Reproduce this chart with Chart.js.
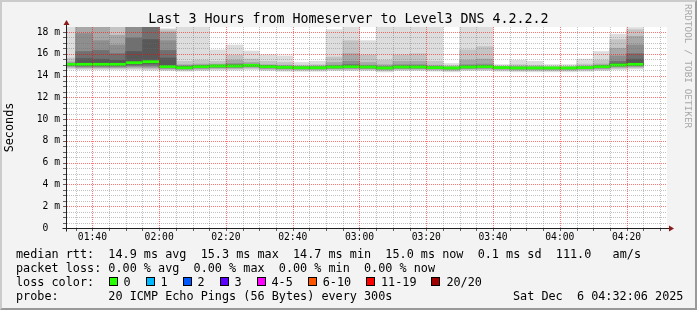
<!DOCTYPE html>
<html>
<head>
<meta charset="utf-8">
<script src="https://cdn.jsdelivr.net/npm/chart.js@4/dist/chart.umd.min.js"></script>
<style>
html, body { margin: 0; padding: 0; background: #f3f3f3; }
#wrap { position: relative; width: 697px; height: 310px; overflow: hidden; }
#chart { position: absolute; left: 0; top: 0; }
.mono { position: absolute; font-family: 'DejaVu Sans Mono', monospace; font-size: 11.8px; line-height: 14px; white-space: pre; color: #000; }
.box { position: absolute; width: 7px; height: 7px; border: 1px solid #000; }
#title { position: absolute; left: 0; top: 10px; width: 697px; text-align: center; font-family: 'DejaVu Sans Mono', monospace; font-size: 13.3px; line-height: 18px; color: #000; white-space: pre; }
#stamp { position: absolute; left: 683px; top: 4px; writing-mode: vertical-rl; font-family: 'DejaVu Sans Mono', monospace; font-size: 9.4px; line-height: 10px; color: #a8a8a8; white-space: pre; }
#frame { position: absolute; left: 0; top: 0; width: 697px; height: 310px; box-sizing: border-box;
  border-top: 2px solid #cbcbcb; border-left: 2px solid #cbcbcb; border-right: 2px solid #999; border-bottom: 2px solid #999; }
</style>
</head>
<body>
<div id="wrap">
  <canvas id="chart" width="697" height="310"></canvas>
  <div id="title"></div>
  <div id="legend"></div>
  <div id="stamp">RRDTOOL / TOBI OETIKER</div>
  <div id="frame"></div>
</div>
<script>
// --- data (5 minute slots, start time of each slot) ---
const titleText = 'Last 3 Hours from Homeserver to Level3 DNS 4.2.2.2';
const timeStart = '01:32:06';
const timeEnd = '04:32:06';
const slotTimes = ['01:30','01:35','01:40','01:45','01:50','01:55','02:00','02:05','02:10','02:15','02:20','02:25',
  '02:30','02:35','02:40','02:45','02:50','02:55','03:00','03:05','03:10','03:15','03:20','03:25',
  '03:30','03:35','03:40','03:45','03:50','03:55','04:00','04:05','04:10','04:15','04:20'];

// median rtt (ms)
const median = [15.03,15.03,15.03,15.03,15.18,15.27,14.82,14.72,14.82,14.88,14.88,14.94,14.82,14.76,14.72,14.72,14.79,14.82,
  14.79,14.70,14.79,14.79,14.73,14.70,14.79,14.82,14.73,14.70,14.70,14.70,14.70,14.73,14.82,14.97,15.03];

// smoke bands, outermost (1) to innermost (6): low and high edge in ms
const band1Lo = [14.6,14.55,14.55,14.55,14.55,14.5,14.45,14.4,14.45,14.5,14.5,14.55,14.45,14.4,14.4,14.4,14.45,14.45,14.45,14.35,14.45,14.45,14.4,14.35,14.45,14.45,14.4,14.35,14.35,14.35,14.35,14.4,14.45,14.55,14.6];
const band1Hi = [19,19,19,19,19,19,18.3,19,19,16.35,16.8,16.25,15.9,15.8,15.2,15.3,18.2,19,17.2,19,19,19,19,15.1,19,19,15.0,15.4,15.3,15.0,15.0,15.5,16.2,17.8,18.4];
const band2Lo = [14.7,14.65,14.65,14.65,14.65,14.6,14.55,14.5,14.55,14.6,14.6,14.65,14.55,14.5,14.5,14.5,14.55,14.55,14.55,14.45,14.55,14.55,14.5,14.45,14.55,14.55,14.5,14.45,14.45,14.45,14.45,14.5,14.55,14.65,14.7];
const band2Hi = [15.6,19,19,19,19,19,18.2,15.3,15.4,15.3,15.85,15.5,15.3,15.2,14.95,15.0,15.7,17.2,15.9,15.4,15.9,16.0,15.3,14.9,16.35,16.65,14.88,15.0,14.95,14.85,14.85,15.05,15.4,17.3,18.2];
const band3Lo = [14.8,14.72,14.72,14.72,14.75,14.7,14.62,14.57,14.63,14.68,14.68,14.75,14.63,14.58,14.57,14.57,14.62,14.63,14.62,14.53,14.62,14.62,14.57,14.53,14.62,14.63,14.57,14.53,14.53,14.53,14.53,14.57,14.63,14.75,14.8];
const band3Hi = [15.25,19,19,17.7,19,19,18.0,15.0,15.05,15.05,15.4,15.2,15.0,14.95,14.85,14.88,15.2,16.0,15.2,15.0,15.3,15.3,14.95,14.8,15.4,15.5,14.8,14.85,14.82,14.78,14.78,14.88,15.05,16.5,17.6];
const band4Lo = [14.88,14.8,14.8,14.8,14.85,14.8,14.68,14.62,14.7,14.75,14.75,14.82,14.7,14.65,14.62,14.62,14.68,14.7,14.68,14.6,14.68,14.68,14.63,14.6,14.68,14.7,14.63,14.6,14.6,14.6,14.6,14.63,14.7,14.83,14.88];
const band4Hi = [15.15,17.85,17.2,16.8,19,19,17.2,14.9,14.95,14.98,15.1,15.05,14.92,14.86,14.8,14.8,14.95,15.3,14.95,14.85,15.0,15.0,14.83,14.76,15.0,15.05,14.77,14.78,14.77,14.75,14.75,14.8,14.92,15.8,16.8];
const band5Lo = [14.93,14.88,14.88,14.88,14.95,14.95,14.73,14.66,14.75,14.8,14.8,14.87,14.75,14.7,14.66,14.66,14.72,14.75,14.72,14.64,14.72,14.72,14.67,14.64,14.72,14.75,14.67,14.64,14.64,14.64,14.64,14.67,14.75,14.9,14.93];
const band5Hi = [15.1,16.2,16.3,16.0,17.45,19,16.3,14.85,14.9,14.94,15.0,15.0,14.88,14.82,14.77,14.77,14.87,15.0,14.86,14.78,14.88,14.88,14.78,14.74,14.88,14.92,14.76,14.75,14.74,14.73,14.73,14.77,14.87,15.3,16.0];
const band6Lo = [14.97,14.95,14.95,14.95,15.05,15.1,14.77,14.69,14.78,14.84,14.84,14.9,14.78,14.73,14.69,14.69,14.76,14.78,14.76,14.67,14.76,14.76,14.7,14.67,14.76,14.78,14.7,14.67,14.67,14.67,14.67,14.7,14.78,14.94,14.97];
const band6Hi = [15.08,15.55,15.5,15.4,16.2,17.3,15.6,14.8,14.87,14.92,14.95,14.97,14.86,14.8,14.75,14.75,14.83,14.88,14.83,14.75,14.84,14.84,14.76,14.72,14.84,14.86,14.75,14.73,14.72,14.72,14.72,14.75,14.85,15.1,15.5];

const lossLabels = ['0', '1', '2', '3', '4-5', '6-10', '11-19', '20/20'];
const lossColors = ['#26ff00', '#00b8ff', '#0059ff', '#5e00ff', '#ff00ff', '#ff5500', '#ff0000', '#a10000'];

const legendRows = [
  'median rtt:  14.9 ms avg  15.3 ms max  14.7 ms min  15.0 ms now  0.1 ms sd  111.0   am/s',
  'packet loss: 0.00 % avg  0.00 % max  0.00 % min  0.00 % now',
  'loss color:',
  'probe:       20 ICMP Echo Pings (56 Bytes) every 300s'
];
const dateText = 'Sat Dec  6 04:32:06 2025';

// --- helpers ---
function toMin(s) {
  const p = s.split(':').map(Number);
  return p[0] * 60 + p[1] + (p[2] || 0) / 60;
}
function fmt(v) {
  const h = Math.floor(v / 60), m = Math.round(v % 60);
  return String(h).padStart(2, '0') + ':' + String(m).padStart(2, '0');
}

const bands = [
  [band1Lo, band1Hi], [band2Lo, band2Hi], [band3Lo, band3Hi],
  [band4Lo, band4Hi], [band5Lo, band5Hi], [band6Lo, band6Hi]
];
const bandColors = ['#dddddd', '#c4c4c4', '#a8a8a8', '#8e8e8e', '#707070', '#585858'];
const slotX = slotTimes.map(t => toMin(t) + 2.5);

// grid every 5 min / 0.5 ms, red every 20 min / 2 ms
const xGrid = [];
for (let v = 95; v <= 270; v += 5) xGrid.push(v);
const yGrid = [];
for (let v = 0.5; v <= 18; v += 0.5) yGrid.push(v);

const majorColor = 'rgba(255,0,0,0.55)';
const minorColor = 'rgba(110,110,110,0.42)';
const tickFont = { family: "'DejaVu Sans Mono', monospace", size: 9.7 };
const medHalf = 0.13;

const datasets = bands.map((b, k) => ({
  data: slotX.map((x, i) => ({ x: x, y: [b[0][i], b[1][i]] })),
  backgroundColor: bandColors[k],
  borderWidth: 0,
  grouped: false,
  barPercentage: 1,
  categoryPercentage: 1,
  inflateAmount: 0.4,
  order: 10 - k
}));
datasets.push({
  data: slotX.map((x, i) => ({ x: x, y: [median[i] - medHalf, median[i] + medHalf] })),
  backgroundColor: lossColors[0],
  borderWidth: 0,
  grouped: false,
  barPercentage: 1,
  categoryPercentage: 1,
  inflateAmount: 0,
  order: 0
});

const canvasBg = {
  id: 'canvasBg',
  beforeDraw(chart) {
    const a = chart.chartArea, ctx = chart.ctx;
    ctx.save();
    ctx.fillStyle = '#ffffff';
    ctx.fillRect(a.left, a.top, a.right - a.left, a.bottom - a.top);
    ctx.restore();
  }
};

// dotted grid on top of the smoke, placed with the chart's own scales
const gridLines = {
  id: 'gridLines',
  afterDatasetsDraw(chart) {
    const { ctx, chartArea: a, scales } = chart;
    const sx = scales.x, sy = scales.y;
    const top = Math.round(a.top), bottom = Math.round(a.bottom);
    const left = Math.round(a.left), right = Math.round(a.right);
    ctx.save();
    const pass = major => {
      ctx.fillStyle = major ? majorColor : minorColor;
      xGrid.filter(v => (v % 20 === 0) === major).forEach(v => {
        const px = Math.round(sx.getPixelForValue(v));
        for (let y = top; y < bottom; y += 2) ctx.fillRect(px, y, 1, 1);
      });
      yGrid.filter(v => (v % 2 === 0) === major).forEach(v => {
        const py = Math.round(sy.getPixelForValue(v));
        for (let x = left + 1; x < right; x += 2) ctx.fillRect(x, py, 1, 1);
      });
    };
    pass(false);
    pass(true);
    // small tick marks outside the axes
    ctx.fillStyle = '#606060';
    xGrid.forEach(v => ctx.fillRect(Math.round(sx.getPixelForValue(v)), bottom, 1, 3));
    yGrid.forEach(v => ctx.fillRect(left - 3, Math.round(sy.getPixelForValue(v)), 3, 1));
    ctx.restore();
  }
};

const axisArrows = {
  id: 'axisArrows',
  afterDraw(chart) {
    const a = chart.chartArea, ctx = chart.ctx;
    const l = Math.round(a.left) + 0.5, b = Math.round(a.bottom) + 0.5;
    ctx.save();
    ctx.strokeStyle = '#202020';
    ctx.lineWidth = 1;
    ctx.beginPath();
    ctx.moveTo(l - 4, b); ctx.lineTo(a.right + 3, b);
    ctx.moveTo(l, b + 3); ctx.lineTo(l, a.top - 3);
    ctx.stroke();
    ctx.fillStyle = '#8b1a1a';
    ctx.beginPath();
    ctx.moveTo(a.right + 7, b); ctx.lineTo(a.right + 2, b - 3); ctx.lineTo(a.right + 2, b + 3);
    ctx.closePath(); ctx.fill();
    ctx.beginPath();
    ctx.moveTo(l, a.top - 7); ctx.lineTo(l - 3, a.top - 2); ctx.lineTo(l + 3, a.top - 2);
    ctx.closePath(); ctx.fill();
    ctx.restore();
  }
};

new Chart(document.getElementById('chart'), {
  type: 'bar',
  data: { datasets: datasets },
  plugins: [canvasBg, gridLines, axisArrows],
  options: {
    responsive: false,
    animation: false,
    layout: { padding: { left: 0, right: 30, top: 27, bottom: 62 } },
    plugins: {
      legend: { display: false },
      tooltip: { enabled: false },
      title: { display: false }
    },
    scales: {
      x: {
        type: 'linear',
        min: toMin(timeStart),
        max: toMin(timeEnd),
        offset: false,
        afterBuildTicks: s => { s.ticks = xGrid.map(v => ({ value: v })); },
        afterFit: s => { s.height = 20; },
        ticks: {
          autoSkip: false, maxRotation: 0, minRotation: 0, padding: 1,
          font: tickFont, color: '#000',
          callback: v => (v % 20 === 0 ? fmt(v) : '')
        },
        grid: { display: false, drawTicks: true, tickLength: 3, offset: false },
        border: { display: false }
      },
      y: {
        min: 0,
        max: 18.46,
        afterBuildTicks: s => { s.ticks = [0].concat(yGrid).map(v => ({ value: v })); },
        afterFit: s => { s.width = 66; },
        ticks: {
          autoSkip: false, padding: 3, font: tickFont, color: '#000',
          callback: v => (v % 2 === 0 ? (v === 0 ? '0  ' : v + ' m') : '')
        },
        grid: { display: false, drawTicks: true, tickLength: 3 },
        border: { display: false },
        title: {
          display: true, text: 'Seconds', color: '#000',
          font: { family: "'DejaVu Sans Mono', monospace", size: 11.8 },
          padding: { top: 3, bottom: 0 }
        }
      }
    }
  }
});

document.getElementById('title').textContent = titleText;

// --- legend text below the graph ---
const legend = document.getElementById('legend');
legendRows.forEach((row, i) => {
  const d = document.createElement('div');
  d.className = 'mono';
  d.style.left = '16px';
  d.style.top = (247 + i * 14) + 'px';
  d.textContent = row;
  legend.appendChild(d);
});
let lx = 108.5;
lossLabels.forEach((lab, i) => {
  const b = document.createElement('div');
  b.className = 'box';
  b.style.left = lx + 'px';
  b.style.top = '277px';
  b.style.background = lossColors[i];
  legend.appendChild(b);
  const t = document.createElement('div');
  t.className = 'mono';
  t.style.left = (lx + 15) + 'px';
  t.style.top = '275px';
  t.textContent = lab;
  legend.appendChild(t);
  lx += 37 + (lab.length - 1) * 7.1;
});
const dt = document.createElement('div');
dt.className = 'mono';
dt.style.left = '513px';
dt.style.top = (247 + 3 * 14) + 'px';
dt.textContent = dateText;
legend.appendChild(dt);
</script>
</body>
</html>
